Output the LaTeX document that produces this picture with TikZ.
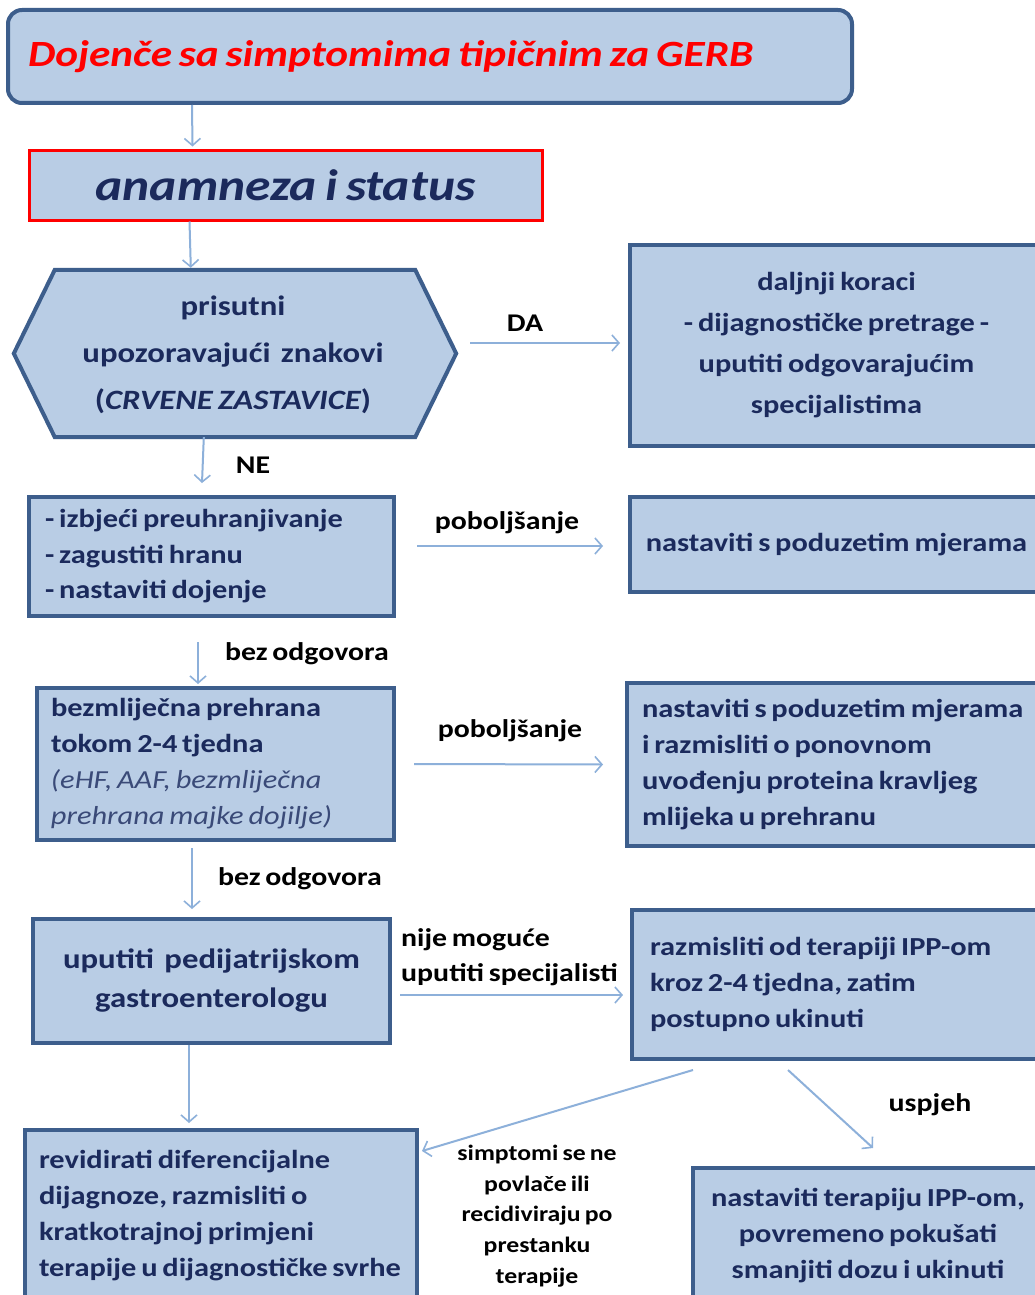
\documentclass[tikz,border=0pt]{standalone}
\usepackage{fontspec}
\setmainfont{Carlito}[FakeStretch=1.17, WordSpace=0.7]
\usetikzlibrary{arrows.meta,calc}
\definecolor{boxfill}{HTML}{B9CDE5}
\definecolor{boxdraw}{HTML}{3D5E8C}
\definecolor{navy}{HTML}{1B2A5C}
\definecolor{navylight}{HTML}{3A4A78}
\definecolor{arrowc}{HTML}{8DB0DA}
\definecolor{titlered}{HTML}{FF0000}
\begin{document}
\begin{tikzpicture}[x=1pt,y=-1pt,
  box/.style={draw=boxdraw, line width=4pt, fill=boxfill, inner sep=0pt, text=navy,
    font=\bfseries\fontsize{26}{36}\selectfont, execute at begin node={\spaceskip=0pt\xspaceskip=0pt\relax}},
  arr/.style={draw=arrowc, line width=2pt, -{Straight Barb[length=7pt,width=16pt,line width=1.6pt]}},
  lbl/.style={font=\bfseries\fontsize{25.5}{35}\selectfont, text=black, inner sep=0pt,
    execute at begin node={\spaceskip=0pt\xspaceskip=0pt\relax}}]
\useasboundingbox (0,0) rectangle (1035,1295);
\clip (0,0) rectangle (1035,1295);
\fill[white] (0,0) rectangle (1035,1295);

% top box
\node[box, rounded corners=14pt, minimum width=844pt, minimum height=93pt, align=left, text width=804pt,
  text=titlered, font=\bfseries\itshape\fontsize{37}{44}\selectfont] (top) at (430,56.5)
  {Dojenče sa simptomima tipičnim za GERB};

% anamneza
\node[box, draw=red, line width=3pt, minimum width=513pt, minimum height=70pt,
  font=\bfseries\itshape\fontsize{44}{48}\selectfont] (anam) at (285.5,185) {anamneza i status};

% hexagon
\node[inner sep=0pt, minimum width=442pt, minimum height=167pt] (hex) at (235,353.5) {};
\draw[boxdraw, line width=4pt, fill=boxfill, line join=miter]
  (hex.west) -- ($(hex.north west)+(41,0)$) -- ($(hex.north east)+(-41,0)$) -- (hex.east)
  -- ($(hex.south east)+(-41,0)$) -- ($(hex.south west)+(41,0)$) -- cycle;
\node[align=center, text=navy, inner sep=0pt, font=\bfseries\fontsize{28}{47}\selectfont] (hextext) at (233,355)
  {prisutni\\upozoravajući\ \ znakovi\\({\itshape CRVENE ZASTAVICE})};

% right boxes
\node[box, minimum width=413pt, minimum height=201pt, align=center, font=\bfseries\fontsize{26}{41}\selectfont]
  (dalj) at (836.5,345.5)
  {daljnji koraci\\- dijagnostičke pretrage -\\uputiti odgovarajućim\\specijalistima};

\node[box, minimum width=365pt, minimum height=119pt, align=left, text width=333pt,
  font=\bfseries\fontsize{26}{35.5}\selectfont] (b6) at (211.5,556.5)
  {- izbjeći preuhranjivanje\\- zagustiti hranu\\- nastaviti dojenje};

\node[box, minimum width=413pt, minimum height=95pt, align=center] (b8) at (836.5,544.5)
  {nastaviti s poduzetim mjerama};

\node[box, minimum width=357pt, minimum height=152pt, align=left, text width=329pt] (b10) at (215.5,764)
  {bezmliječna prehrana\\tokom 2-4 tjedna\\{\mdseries\itshape\color{navylight}(eHF, AAF, bezmliječna}\\{\mdseries\itshape\color{navylight}prehrana majke dojilje)}};

\node[box, minimum width=416pt, minimum height=163pt, align=left, text width=386pt] (b12) at (835,764.5)
  {nastaviti s poduzetim mjerama\\i razmisliti o ponovnom\\uvođenju proteina kravljeg\\mlijeka u prehranu};

\node[box, minimum width=357pt, minimum height=124pt, align=center,
  font=\bfseries\fontsize{28}{39}\selectfont] (b14) at (211.5,981)
  {uputiti\ \ pedijatrijskom\\gastroenterologu};

\node[box, minimum width=411pt, minimum height=149pt, align=left, text width=375pt] (b16) at (837.5,984.5)
  {razmisliti od terapiji IPP-om\\kroz 2-4 tjedna, zatim\\postupno ukinuti};

\node[box, minimum width=392pt, minimum height=172pt, align=left, text width=364pt] (b18) at (221,1216)
  {revidirati diferencijalne\\dijagnoze, razmisliti o\\kratkotrajnoj primjeni\\terapije u dijagnostičke svrhe};

\node[box, minimum width=350pt, minimum height=136pt, align=center] (b21) at (868,1236)
  {nastaviti terapiju IPP-om,\\povremeno pokušati\\smanjiti dozu i ukinuti};

% connectors
\draw[arr] ($(top.south west)+(186,0)$) -- ($(anam.north west)+(165,-2)$);
\draw[arr] ($(anam.south west)+(162,0)$) -- ($(hex.north west)+(177,-2)$);
\draw[arr] ($(hex.east)+(14,-10.5)$) -- ($(dalj.west)+(-8,-2.5)$);
\draw[arr] ($(hex.south west)+(190,0)$) -- ($(b6.north west)+(175,-12)$);
\draw[arr] ($(b6.east)+(21,-10.5)$) -- ($(b8.west)+(-25,1.5)$);
\draw[arr] ($(b6.south west)+(171,24)$) -- ($(b10.north west)+(163,-2)$);
\draw[arr] ($(b10.east)+(18,0)$) -- ($(b12.west)+(-22,0)$);
\draw[arr] ($(b10.south west)+(157,6)$) -- ($(b14.north west)+(161,-8)$);
\draw[arr] ($(b14.east)+(8,14)$) -- ($(b16.west)+(-7,10.5)$);
\draw[arr] ($(b14.south west)+(158,0)$) -- ($(b18.north west)+(166,-5)$);
\draw[arr] ($(b16.south west)+(63,9)$) -- ($(b18.north east)+(3,23)$);
\draw[arr] ($(b16.south west)+(158,9)$) -- ($(b21.north west)+(182,-18)$);

% labels
\node[lbl] (lda) at (525,323) {DA};
\node[lbl] (lne) at (253,465) {NE};
\node[lbl] (lpob1) at (507,523) {poboljšanje};
\node[lbl] (lbez1) at (307,654) {bez odgovora};
\node[lbl] (lpob2) at (510,731) {poboljšanje};
\node[lbl] (lbez2) at (300,879) {bez odgovora};
\node[lbl, anchor=west, align=left] (lnije) at (401,957.5) {nije moguće\\uputiti specijalisti};
\node[lbl, align=center, font=\bfseries\fontsize{22}{30.7}\selectfont] (lsimp) at (537,1216)
  {simptomi se ne\\povlače ili\\recidiviraju po\\prestanku\\terapije};
\node[lbl] (lusp) at (930,1105) {uspjeh};
\end{tikzpicture}
\end{document}
